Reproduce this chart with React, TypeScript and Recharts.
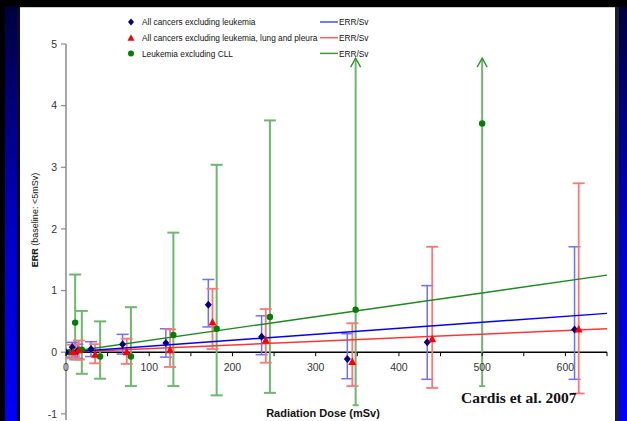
import React from 'react';
import { ScatterChart, Scatter, XAxis, YAxis, ErrorBar, ReferenceLine, ReferenceDot } from 'recharts';

// All cancers excluding leukemia
const blueDoses = [7.5, 13.5, 30, 68, 120, 171, 235, 338, 434, 611];
const blueErr = [0.08, 0.02, 0.05, 0.13, 0.15, 0.77, 0.25, -0.11, 0.16, 0.37];
const blueLow = [-0.08, -0.1, -0.07, -0.03, -0.08, 0.41, -0.04, -0.43, -0.44, -0.44];
const blueHigh = [0.16, 0.13, 0.17, 0.29, 0.38, 1.18, 0.59, 0.3, 1.08, 1.71];

// All cancers excluding leukemia, lung and pleura
const redDoses = [8.5, 15.5, 35, 73, 125, 176, 240, 344, 440, 616];
const redErr = [0.0, 0.03, -0.04, 0.0, 0.03, 0.48, 0.19, -0.16, 0.21, 0.37];
const redLow = [-0.1, -0.12, -0.18, -0.19, -0.24, 0.05, -0.17, -0.55, -0.58, -0.67];
const redHigh = [0.12, 0.19, 0.13, 0.22, 0.37, 1.03, 0.7, 0.47, 1.71, 2.74];

// Leukemia excluding CLL
const greenDoses = [11, 19, 41, 78, 129, 181, 245];
const greenErr = [0.48, 0.04, -0.07, -0.07, 0.28, 0.38, 0.57];
const greenLow = [-0.12, -0.35, -0.43, -0.55, -0.55, -0.7, -0.66];
const greenHigh = [1.26, 0.67, 0.5, 0.73, 1.94, 3.04, 3.76];
// Leukemia points whose upper limit is off the scale
const greenOffDoses = [348, 500];
const greenOffErr = [0.69, 3.71];
const greenOffLow = [-0.86, -0.55];
const greenOffArrowTip = [4.77, 4.77];

// Baseline (<5 mSv) points
const baselineBlue = [0];
const baselineGreen = [4];

// ERR/Sv fitted lines (dose, ERR)
const fitDoses = [0, 650];
const blueFit = [0, 0.63];
const redFit = [0, 0.38];
const greenFit = [0, 1.25];

const xTicks = [0, 50, 100, 150, 200, 250, 300, 350, 400, 450, 500, 550, 600, 650];
const xLabels = [0, 100, 200, 300, 400, 500, 600];
const yTicks = [-1, 0, 1, 2, 3, 4, 5];

const legendItems = [
  { name: 'All cancers excluding leukemia', marker: 'diamond', line: '#4d4dff' },
  { name: 'All cancers excluding leukemia, lung and pleura', marker: 'triangle', line: '#ff5c5c' },
  { name: 'Leukemia excluding CLL', marker: 'circle', line: '#3a9a3a' },
];
const fitLabel = 'ERR/Sv';

const FONT = '"Liberation Sans", Arial, sans-serif';

const build = (d: number[], v: number[], lo: number[], hi: number[]) =>
  d.map((x, i) => ({ x, y: v[i], err: [v[i] - lo[i], hi[i] - v[i]] }));
const pts = (d: number[], v: number[]) => d.map((x, i) => ({ x, y: v[i] }));

const blueData = build(blueDoses, blueErr, blueLow, blueHigh);
const redData = build(redDoses, redErr, redLow, redHigh);
const greenData = build(greenDoses, greenErr, greenLow, greenHigh);
const greenOffBars = greenOffDoses.map((x, i) => ({ x, y: greenOffArrowTip[i], err: [greenOffArrowTip[i] - greenOffLow[i], 0] }));
const greenOffCaps = pts(greenOffDoses, greenOffLow);
const blueAll = [...pts(baselineBlue, [0]), ...pts(blueDoses, blueErr)];
const redAll = pts(redDoses, redErr);
const greenAll = [...pts(baselineGreen, [0]), ...pts(greenDoses, greenErr), ...pts(greenOffDoses, greenOffErr)];

const Empty = () => <g />;
const Diamond = (p: any) => (
  <polygon points={`${p.cx},${p.cy - 4} ${p.cx + 3.5},${p.cy} ${p.cx},${p.cy + 4} ${p.cx - 3.5},${p.cy}`} fill="#000080" />
);
const Triangle = (p: any) => (
  <polygon points={`${p.cx},${p.cy - 4.5} ${p.cx + 4},${p.cy + 3} ${p.cx - 4},${p.cy + 3}`} fill="#ff0000" />
);
const Dot = (p: any) => <circle cx={p.cx} cy={p.cy} r={3.2} fill="#008000" />;
const Arrow = (p: any) => (
  <polyline points={`${p.cx - 5},${p.cy + 9} ${p.cx},${p.cy} ${p.cx + 5},${p.cy + 9}`} fill="none" stroke="#2f962f" strokeWidth={1.4} />
);
const Cap = (p: any) => <line x1={p.cx - 3} x2={p.cx + 3} y1={p.cy} y2={p.cy} stroke="#6cb86c" strokeWidth={2} />;

const LegendMarker = ({ kind }: { kind: string }) => {
  if (kind === 'diamond') return <polygon points="5,1.5 8,5 5,8.5 2,5" fill="#000080" />;
  if (kind === 'triangle') return <polygon points="5,1.5 8.5,8 1.5,8" fill="#ff0000" />;
  return <circle cx={5} cy={5} r={3} fill="#008000" />;
};

export default function App() {
  return (
    <div style={{ position: 'absolute', left: 0, top: 0, width: 627, height: 421, background: '#000', overflow: 'hidden' }}>
      {/* left blue border */}
      <div style={{ position: 'absolute', left: 5, top: 0, width: 12, height: 421, background: 'linear-gradient(#00003a, #0000c8 55%, #0000ff)' }} />
      <div style={{ position: 'absolute', left: 17, top: 0, width: 3, height: 421, background: '#0a0a30' }} />
      {/* right blue border */}
      <div style={{ position: 'absolute', left: 619, top: 0, width: 8, height: 421, background: 'linear-gradient(#00003a, #0000c8 55%, #0000ff)' }} />
      <div style={{ position: 'absolute', left: 615, top: 6, width: 4, height: 415, background: '#202028' }} />
      {/* top band */}
      <div style={{ position: 'absolute', left: 0, top: 0, width: 627, height: 7, background: '#000' }} />
      {/* white panel */}
      <div style={{ position: 'absolute', left: 20, top: 7, width: 595, height: 414, background: '#fff', borderTop: '1px solid #ccc' }} />

      <div style={{ position: 'absolute', left: 0, top: 0 }}>
        <ScatterChart width={627} height={421} margin={{ top: 44, right: 20, bottom: 1, left: 20 }}>
          <XAxis type="number" dataKey="x" domain={[0, 650]} allowDataOverflow hide />
          <YAxis
            type="number"
            dataKey="y"
            domain={[-1.1, 5]}
            allowDataOverflow
            ticks={yTicks}
            width={46}
            tickSize={5}
            tickMargin={4}
            axisLine={{ stroke: '#8a8a8a', strokeWidth: 1.5 }}
            tickLine={{ stroke: '#8a8a8a', strokeWidth: 1.2 }}
            tick={{ fontSize: 10.5, fill: '#333', fontFamily: FONT }}
          />
          <ReferenceLine y={0} stroke="#000" strokeWidth={1.6} ifOverflow="extendDomain" />
          {xTicks.map((t) => (
            <ReferenceDot
              key={t}
              x={t}
              y={0}
              r={0}
              shape={(p: any) => (
                <g>
                  <line x1={p.cx} x2={p.cx} y1={p.cy} y2={p.cy + 4} stroke="#000" strokeWidth={1} />
                  {xLabels.includes(t) ? (
                    <text x={p.cx} y={p.cy + 19} textAnchor="middle" fontSize={10.5} fill="#333" fontFamily={FONT}>
                      {t}
                    </text>
                  ) : null}
                </g>
              )}
            />
          ))}

          <Scatter data={greenData} shape={Empty} isAnimationActive={false}>
            <ErrorBar dataKey="err" direction="y" width={6} stroke="#6cb86c" strokeWidth={2} />
          </Scatter>
          <Scatter data={greenOffBars} shape={Arrow} isAnimationActive={false}>
            <ErrorBar dataKey="err" direction="y" width={0} stroke="#6cb86c" strokeWidth={2} />
          </Scatter>
          <Scatter data={greenOffCaps} shape={Cap} isAnimationActive={false} />
          <Scatter data={blueData} shape={Empty} isAnimationActive={false}>
            <ErrorBar dataKey="err" direction="y" width={6} stroke="#6f6fff" strokeWidth={1.5} />
          </Scatter>
          <Scatter data={redData} shape={Empty} isAnimationActive={false}>
            <ErrorBar dataKey="err" direction="y" width={6} stroke="#ff7676" strokeWidth={1.8} />
          </Scatter>

          <Scatter data={pts(fitDoses, redFit)} shape={Empty} line={{ stroke: '#ff3535', strokeWidth: 1.5 }} isAnimationActive={false} />
          <Scatter data={pts(fitDoses, blueFit)} shape={Empty} line={{ stroke: '#0000ff', strokeWidth: 1.4 }} isAnimationActive={false} />
          <Scatter data={pts(fitDoses, greenFit)} shape={Empty} line={{ stroke: '#1a8a1a', strokeWidth: 1.4 }} isAnimationActive={false} />

          <Scatter data={greenAll} shape={Dot} isAnimationActive={false} />
          <Scatter data={blueAll} shape={Diamond} isAnimationActive={false} />
          <Scatter data={redAll} shape={Triangle} isAnimationActive={false} />
        </ScatterChart>
      </div>

      <svg width={627} height={421} style={{ position: 'absolute', left: 0, top: 0, pointerEvents: 'none' }}>
        {legendItems.map((it, i) => (
          <g key={it.name}>
            <g transform={`translate(126, ${17 + i * 15.7})`}>
              <LegendMarker kind={it.marker} />
            </g>
            <text x={142} y={25.2 + i * 15.7} fontSize={8.3} fill="#111" fontFamily={FONT}>
              {it.name}
            </text>
            <line x1={320} x2={338} y1={22 + i * 15.7} y2={22 + i * 15.7} stroke={it.line} strokeWidth={1.5} />
            <text x={339} y={25.2 + i * 15.7} fontSize={8.3} fill="#111" fontFamily={FONT}>
              {fitLabel}
            </text>
          </g>
        ))}
        <text x={323} y={417} textAnchor="middle" fontSize={11} fontWeight="bold" fill="#111" fontFamily={FONT}>
          Radiation Dose (mSv)
        </text>
        <text transform="translate(38, 220) rotate(-90)" textAnchor="middle" fontSize={9} fill="#111" fontFamily={FONT}>
          <tspan fontWeight="bold">ERR</tspan>
          <tspan> (baseline: &lt;5mSv)</tspan>
        </text>
        <text x={461} y={403} fontSize={15.5} fontWeight="bold" fill="#111" fontFamily='"Liberation Serif", "Times New Roman", serif'>
          Cardis et al. 2007
        </text>
      </svg>
    </div>
  );
}
